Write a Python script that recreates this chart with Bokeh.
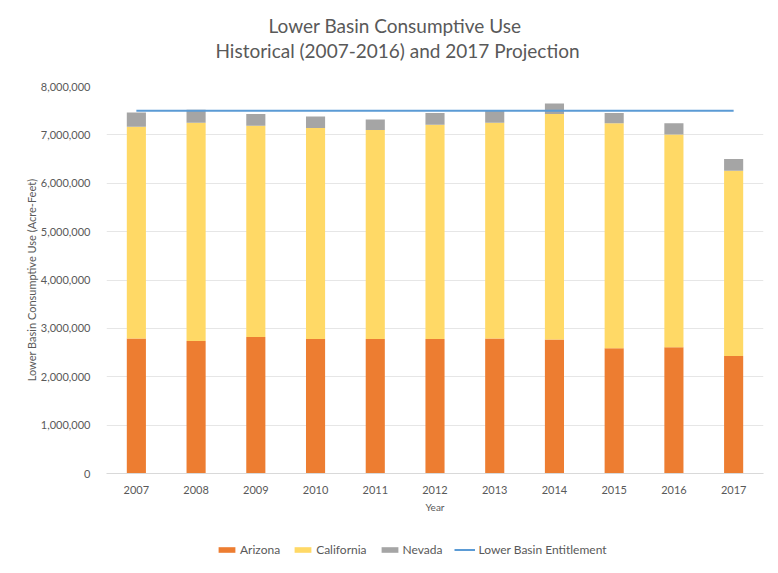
from bokeh.plotting import figure
from bokeh.layouts import column
from bokeh.models import (ColumnDataSource, FixedTicker, NumeralTickFormatter, Title,
                          Legend, LegendItem, Range1d)
from bokeh.embed import file_html
from bokeh.resources import INLINE

years = ["2007", "2008", "2009", "2010", "2011", "2012", "2013", "2014", "2015", "2016", "2017"]
arizona = [2790000, 2740000, 2820000, 2780000, 2780000, 2780000, 2790000, 2770000, 2590000, 2610000, 2430000]
california = [4380000, 4510000, 4370000, 4360000, 4320000, 4430000, 4460000, 4660000, 4650000, 4400000, 3830000]
nevada = [290000, 270000, 240000, 240000, 220000, 240000, 250000, 220000, 210000, 230000, 240000]
entitlement = [7500000] * len(years)
series = ["Arizona", "California", "Nevada"]
colors = ["#ED7D31", "#FFD966", "#A5A5A5"]
line_color = "#5B9BD5"
y_ticks = [0, 1000000, 2000000, 3000000, 4000000, 5000000, 6000000, 7000000, 8000000]

FONT = "Lato"
TXT = "#595959"

source = ColumnDataSource(dict(year=years, Arizona=arizona, California=california,
                               Nevada=nevada, entitlement=entitlement))

p = figure(x_range=years, y_range=Range1d(0, 8000000), width=778, height=530,
           output_backend="svg", toolbar_location=None,
           min_border_left=106, min_border_right=15, min_border_top=86, min_border_bottom=57)

bars = p.vbar_stack(series, x="year", width=0.32, color=colors, source=source, line_color=None)
line = p.line(x="year", y="entitlement", source=source, line_color=line_color, line_width=2)

p.outline_line_color = None
p.background_fill_color = "white"
p.xgrid.grid_line_color = None
p.ygrid.grid_line_color = "#E6E6E6"
p.ygrid.grid_line_width = 1

p.yaxis.ticker = FixedTicker(ticks=y_ticks)
p.yaxis.formatter = NumeralTickFormatter(format="0,0")
p.yaxis.axis_line_color = None
p.yaxis.major_tick_line_color = None
p.yaxis.minor_tick_line_color = None
p.yaxis.major_label_text_font = FONT
p.yaxis.major_label_text_font_size = "11px"
p.yaxis.major_label_text_color = TXT
p.yaxis.major_label_standoff = 10
p.yaxis.axis_label = "Lower Basin Consumptive Use (Acre-Feet)"
p.yaxis.axis_label_text_font = FONT
p.yaxis.axis_label_text_font_size = "11px"
p.yaxis.axis_label_text_font_style = "normal"
p.yaxis.axis_label_text_color = TXT
p.yaxis.axis_label_standoff = 0

p.xaxis.axis_line_color = "#D9D9D9"
p.xaxis.major_tick_line_color = None
p.xaxis.minor_tick_line_color = None
p.xaxis.major_label_text_font = FONT
p.xaxis.major_label_text_font_size = "11px"
p.xaxis.major_label_text_color = TXT
p.xaxis.major_label_standoff = 6
p.xaxis.axis_label = "Year"
p.xaxis.axis_label_text_font = FONT
p.xaxis.axis_label_text_font_size = "10px"
p.xaxis.axis_label_text_font_style = "normal"
p.xaxis.axis_label_text_color = TXT
p.xaxis.axis_label_standoff = 4

spacer = Title(text=" ", text_font=FONT, text_font_size="19px", standoff=0)
t2 = Title(text="Historical (2007-2016) and 2017 Projection", align="left",
           text_font=FONT, text_font_size="19px", text_font_style="normal",
           text_color=TXT, offset=109, standoff=0)
t1 = Title(text="Lower Basin Consumptive Use", align="left",
           text_font=FONT, text_font_size="19px", text_font_style="normal",
           text_color=TXT, offset=162, standoff=0)
p.add_layout(spacer, "above")
p.add_layout(t2, "above")
p.add_layout(t1, "above")

# legend strip below the chart (its frame is aligned with the chart's frame)
lg = figure(width=778, height=43, output_backend="svg", toolbar_location=None,
            x_range=Range1d(0, 1), y_range=Range1d(0, 1),
            x_axis_location=None, y_axis_location=None,
            min_border_left=0, min_border_right=0, min_border_top=0, min_border_bottom=0)
lg.outline_line_color = None
lg.grid.visible = False
blank = ColumnDataSource(dict(x=[float("nan")], y=[float("nan")]))
swatches = [lg.vbar(x="x", top="y", width=0.1, color=c, line_color=None, source=blank) for c in colors]
swatches.append(lg.line(x="x", y="y", line_color=line_color, line_width=2, source=blank))
labels = series + ["Lower Basin Entitlement"]
items = [LegendItem(label=s, renderers=[r]) for s, r in zip(labels, swatches)]
legend = Legend(items=items, orientation="horizontal", location=(110, 16),
                label_text_font=FONT, label_text_font_size="12px", label_text_color=TXT,
                glyph_width=21, glyph_height=7, label_standoff=3, spacing=12,
                label_height=14, border_line_color=None, background_fill_alpha=0,
                margin=0, padding=0)
lg.add_layout(legend)

open("out.html", "w").write(file_html(column(p, lg, spacing=0), INLINE))
